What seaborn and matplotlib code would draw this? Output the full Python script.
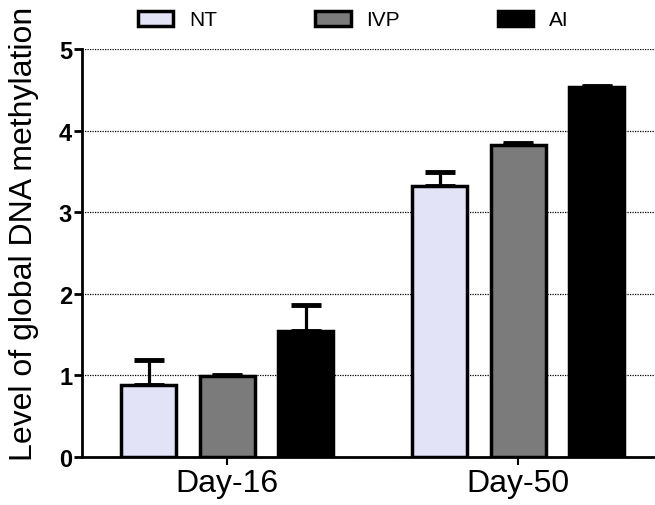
import numpy as np
import pandas as pd
import matplotlib
matplotlib.use("Agg")
import matplotlib.pyplot as plt
import seaborn as sns

# ------------------ Data ------------------
days = ["Day-16", "Day-50"]
groups = ["NT", "IVP", "AI"]
nt_mean = [0.88, 3.32]
ivp_mean = [0.99, 3.82]
ai_mean = [1.55, 4.53]
nt_err = [0.31, 0.17]
ivp_err = [0.02, 0.03]
ai_err = [0.31, 0.02]
colors = ["#e0e0fb", "#7b7b7b", "#000000"]

df = pd.DataFrame({
    "day": days * 3,
    "group": [g for g in groups for _ in days],
    "value": nt_mean + ivp_mean + ai_mean,
    "err": nt_err + ivp_err + ai_err,
})

# ------------------ Plot ------------------
sns.set_style("ticks", {"axes.edgecolor": "black", "text.color": "black",
                        "xtick.color": "black", "ytick.color": "black",
                        "axes.labelcolor": "black"})
plt.rcParams['font.family'] = ['Liberation Sans', 'DejaVu Sans']

fig = plt.figure(figsize=(6.55, 5.06), dpi=100)
ax = fig.add_axes([0.125, 0.095, 0.875, 0.806])

ax.yaxis.grid(True, linestyle=(0, (1, 1)), color="black", linewidth=0.9)
ax.set_axisbelow(True)

sns.barplot(data=df, x="day", y="value", hue="group", order=days, hue_order=groups,
            palette=colors, width=0.81, gap=0.3, errorbar=None,
            edgecolor="black", linewidth=2.5, ax=ax, zorder=3)

# upper-only error bars at the bar centres (patches come hue by hue)
for patch, (_, row) in zip(ax.patches, df.iterrows()):
    xc = patch.get_x() + patch.get_width() / 2
    top = patch.get_height()
    ax.errorbar(xc, top, yerr=[[0], [row["err"]]], fmt="none", ecolor="black",
                elinewidth=2.3, capsize=11, capthick=3.5, zorder=2)

ax.set_ylim(0, 5)
ax.set_xlim(-0.5, 1.47)
ax.set_yticks([0, 1, 2, 3, 4, 5])
ax.set_xlabel("")
ax.set_ylabel("Level of global DNA methylation", fontsize=23)
ax.yaxis.set_label_coords(-0.075, 0.55)
for lab in ax.get_yticklabels():
    lab.set_fontweight("bold")
ax.tick_params(axis="y", labelsize=17, width=2, length=6, direction="out", pad=1)
ax.tick_params(axis="x", labelsize=23, width=1.5, length=6, direction="out", pad=2)
sns.despine(ax=ax)
ax.spines["left"].set_linewidth(2)
ax.spines["bottom"].set_linewidth(2)

handles, labels = ax.get_legend_handles_labels()
ax.legend_.remove()
fig.legend(handles, labels, loc="center left", bbox_to_anchor=(138 / 655, 1 - 21 / 506),
           bbox_transform=fig.transFigure, ncol=3, frameon=False, fontsize=15,
           handlelength=1.7, handleheight=0.76, columnspacing=4.7, handletextpad=0.76,
           borderpad=0, borderaxespad=0)

fig.savefig("out.png", dpi=100)
